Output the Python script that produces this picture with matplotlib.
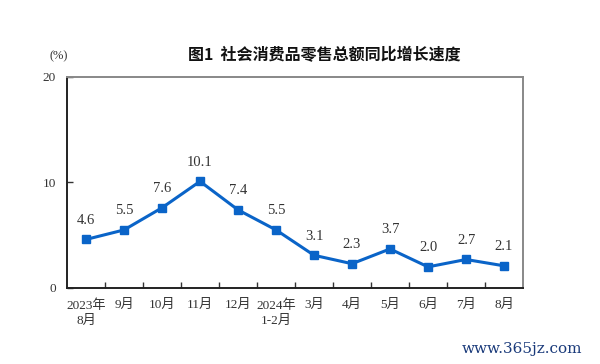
import matplotlib.pyplot as plt

plt.rcParams['font.family'] = ['Liberation Serif', 'Noto Sans CJK SC']

# data
months = ["2023年\n8月", "9月", "10月", "11月", "12月", "2024年\n1-2月",
          "3月", "4月", "5月", "6月", "7月", "8月"]
growth = [4.6, 5.5, 7.6, 10.1, 7.4, 5.5, 3.1, 2.3, 3.7, 2.0, 2.7, 2.1]

LINE_COL = "#0a64c8"
TEXT_COL = "#333333"

fig = plt.figure(figsize=(6.0, 3.64), dpi=100)
ax = fig.add_axes([0.1117, 0.2088, 0.76, 0.58])

xs = list(range(len(months)))
ax.plot(xs, growth, color=LINE_COL, lw=2.2, marker="s", ms=5.5, zorder=3)
for x, v in zip(xs, growth):
    ax.text(x, v + 1.2, f"{v:.1f}", ha="center", va="bottom", fontsize=10.5, color=TEXT_COL)

ax.set_xlim(-0.5, len(months) - 0.5)
ax.set_ylim(0, 20)
ax.set_yticks([0, 10, 20])
ax.set_yticklabels(["0", "10", "20"], fontsize=9.5, color=TEXT_COL)
ax.set_xticks([i - 0.5 for i in range(1, len(months))])
ax.set_xticklabels([])
ax.tick_params(axis="x", direction="in", length=4, width=1, color="#333333")
ax.tick_params(axis="y", direction="in", length=4, width=1, color="#333333", pad=8)
ax.set_xticks(xs, minor=True)
ax.set_xticklabels(months, minor=True, fontsize=9.5, color=TEXT_COL, linespacing=1.3,
                   va="top")
ax.tick_params(axis="x", which="minor", length=0, pad=8)

for s in ["left", "bottom"]:
    ax.spines[s].set_color("#222222")
    ax.spines[s].set_linewidth(1.4)
for s in ["top", "right"]:
    ax.spines[s].set_color("#888888")
    ax.spines[s].set_linewidth(1.4)

fig.text(0.54, 0.848, "图1  社会消费品零售总额同比增长速度", ha="center", va="center",
         fontsize=11.5, fontweight="bold", color="#111111",
         family=["Noto Sans CJK SC", "DejaVu Sans"])
fig.text(0.097, 0.845, "(%)", ha="center", va="center", fontsize=9, color=TEXT_COL)

fig.text(0.97, 0.04, "www.365jz.com", ha="right", va="center", fontsize=11,
         color="#1a3a7a", family=["DejaVu Serif"])

fig.savefig("out.png", dpi=100)
